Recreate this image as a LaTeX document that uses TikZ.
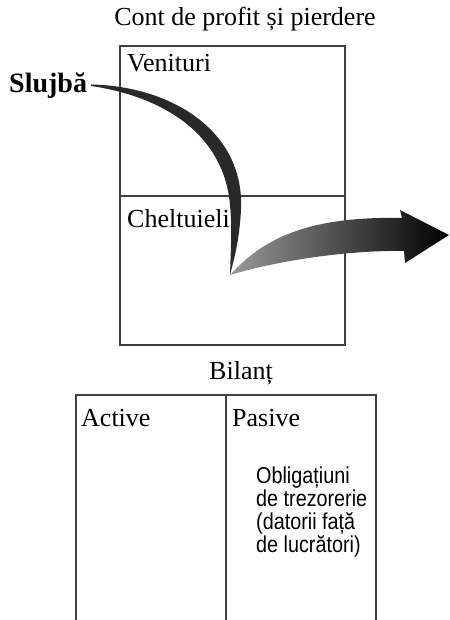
\documentclass[tikz,border=0pt]{standalone}
\usepackage{fontspec}
\setmainfont{Liberation Serif}
\newfontfamily\notefont{Liberation Sans}[FakeStretch=0.86]
\begin{document}
\begin{tikzpicture}[x=1pt,y=-1pt,
  frame/.style={draw=black!75,line width=1.1pt},
  label/.style={inner sep=0pt,font=\fontsize{26}{30}\selectfont},
  note/.style={inner sep=0pt,align=left,font=\notefont\fontsize{23}{22.7}\selectfont}]
\useasboundingbox (0,0) rectangle (449,620);

% profit and loss account
\draw[frame] (120,46) rectangle (345,345);
\draw[frame] (120,196) -- (345,196);
\node[label,anchor=base] (title) at (245,26) {Cont de profit și pierdere};
\node[label,anchor=base west] (venit) at (127,72) {Venituri};
\node[label,anchor=base west] (chelt) at (127,227) {Cheltuieli};

% balance sheet
\draw[frame] (76,620) -- (76,395) -- (376,395) -- (376,620);
\draw[frame] (226,395) -- (226,620);
\node[label,anchor=base] (bilant) at (241,379) {Bilanț};
\node[label,anchor=base west] (active) at (81,426) {Active};
\node[label,anchor=base west] (pasive) at (232,426) {Pasive};
% the base of a multi-line node is its last line
\node[note,anchor=base west] (oblig) at (256,552)
  {Obligațiuni\\de trezorerie\\(datorii față\\de lucrători)};

% income source
\node[inner sep=0pt,anchor=base west,font=\fontsize{28}{32}\selectfont\bfseries] (job) at (9,93) {Slujbă};
\coordinate (start) at ([xshift=4pt]job.east);
\coordinate (bend) at (230,275);

% thin-to-thick curved stroke from the job down into expenses
\fill[black!84] (start |- 0,84.5) .. controls (170,86) and (245,130) .. (241,210)
  .. controls (239,245) and (233,262) .. (bend)
  .. controls (231,245) and (232,225) .. (230,205)
  .. controls (224,135) and (165,97) .. (start |- 0,86) -- cycle;

% shaded arrow leaving the account
\shade[left color=black!40,middle color=black!80,right color=black]
  (bend) .. controls (262,240) and (305,216) .. (402,218)
  -- (400,210) -- (449,235) -- (405,263) -- (404,251)
  .. controls (350,250) and (280,260) .. (bend) -- cycle;
\end{tikzpicture}
\end{document}
